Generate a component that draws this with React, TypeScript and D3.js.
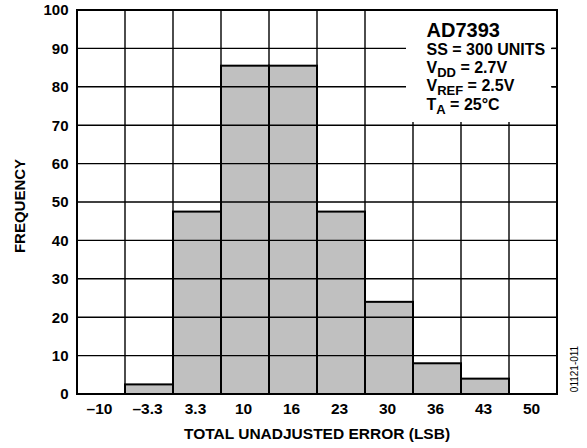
import React, { useEffect, useRef } from 'react';
import * as d3 from 'd3';

// histogram bins (LSB) and counts
const binLabels = ['–10', '–3.3', '3.3', '10', '16', '23', '30', '36', '43', '50'];
const frequency = [0, 2.5, 47.5, 85.5, 85.5, 47.5, 24, 8, 4, 0];
const yTicks = [0, 10, 20, 30, 40, 50, 60, 70, 80, 90, 100];

const W = 587;
const H = 448;

const App: React.FC = () => {
  const svgRef = useRef<SVGSVGElement>(null);

  useEffect(() => {
    if (!svgRef.current) return;
    const svg = d3.select(svgRef.current);
    svg.selectAll('*').remove();

    const margin = { top: 10, right: 30, bottom: 54, left: 77 };
    const innerWidth = W - margin.left - margin.right;
    const innerHeight = H - margin.top - margin.bottom;
    const font = 'Arial, "Liberation Sans", Helvetica, sans-serif';

    const g = svg.append('g').attr('transform', `translate(${margin.left},${margin.top})`);

    const x = d3.scaleBand().domain(binLabels).range([0, innerWidth]).padding(0);
    const y = d3.scaleLinear().domain([0, 100]).range([innerHeight, 0]);

    const bins = binLabels.map((label, i) => ({ label, value: frequency[i] }));

    // bar fills
    g.selectAll('.bar')
      .data(bins)
      .enter()
      .append('rect')
      .attr('class', 'bar')
      .attr('x', d => x(d.label) || 0)
      .attr('width', x.bandwidth())
      .attr('y', d => y(d.value))
      .attr('height', d => innerHeight - y(d.value))
      .attr('fill', '#c0c0c0');

    // grid
    const edges = binLabels.map(l => x(l) || 0);
    g.selectAll('.vgrid')
      .data(edges.slice(1))
      .enter()
      .append('line')
      .attr('x1', d => d).attr('x2', d => d)
      .attr('y1', 0).attr('y2', innerHeight)
      .attr('stroke', '#000').attr('stroke-width', 1.4);
    g.selectAll('.hgrid')
      .data(yTicks.slice(1, -1))
      .enter()
      .append('line')
      .attr('x1', 0).attr('x2', innerWidth)
      .attr('y1', d => y(d)).attr('y2', d => y(d))
      .attr('stroke', '#000').attr('stroke-width', 1.4);

    // bar outlines
    g.selectAll('.bar-outline')
      .data(bins.filter(d => d.value > 0))
      .enter()
      .append('rect')
      .attr('class', 'bar-outline')
      .attr('x', d => x(d.label) || 0)
      .attr('width', x.bandwidth())
      .attr('y', d => y(d.value))
      .attr('height', d => innerHeight - y(d.value))
      .attr('fill', 'none')
      .attr('stroke', '#000')
      .attr('stroke-width', 2);

    // info box (covers the grid behind the legend text)
    g.append('rect')
      .attr('x', 329).attr('y', 1)
      .attr('width', 146).attr('height', 111)
      .attr('fill', '#fff');

    const info = g.append('g')
      .attr('font-family', font)
      .attr('font-weight', 'bold')
      .attr('fill', '#000');
    info.append('text').attr('x', 349.5).attr('y', 26.7).attr('font-size', 20).text('AD7393');
    info.append('text').attr('x', 349.5).attr('y', 45).attr('font-size', 16).text('SS = 300 UNITS');
    const sub = (yy: number, a: string, s: string, b: string) => {
      const t = info.append('text').attr('x', 349.5).attr('y', yy).attr('font-size', 16);
      t.append('tspan').text(a);
      t.append('tspan').attr('font-size', 13).attr('dy', 4).text(s);
      t.append('tspan').attr('dy', -4).text(b);
    };
    sub(62.5, 'V', 'DD', ' = 2.7V');
    sub(81, 'V', 'REF', ' = 2.5V');
    sub(100, 'T', 'A', ' = 25°C');

    // frame
    g.append('rect')
      .attr('x', 0).attr('y', 0)
      .attr('width', innerWidth).attr('height', innerHeight)
      .attr('fill', 'none').attr('stroke', '#000').attr('stroke-width', 2);
    // right tick stubs in the box area
    g.selectAll('.stub')
      .data([90, 80])
      .enter()
      .append('line')
      .attr('x1', innerWidth - 6).attr('x2', innerWidth)
      .attr('y1', d => y(d)).attr('y2', d => y(d))
      .attr('stroke', '#000').attr('stroke-width', 1.4);

    // y tick labels
    g.selectAll('.ylab')
      .data(yTicks)
      .enter()
      .append('text')
      .attr('x', -8.5)
      .attr('y', d => y(d))
      .attr('dy', '0.36em')
      .attr('text-anchor', 'end')
      .attr('font-family', font)
      .attr('font-weight', 'bold')
      .attr('font-size', 15)
      .text(d => d);

    // x tick labels
    g.selectAll('.xlab')
      .data(binLabels)
      .enter()
      .append('text')
      .attr('x', d => (x(d) || 0) + x.bandwidth() / 2 - 1.5)
      .attr('y', innerHeight + 19.5)
      .attr('text-anchor', 'middle')
      .attr('font-family', font)
      .attr('font-weight', 'bold')
      .attr('font-size', 15.5)
      .text(d => d);

    // axis titles
    g.append('text')
      .attr('x', innerWidth / 2)
      .attr('y', innerHeight + 45.3)
      .attr('text-anchor', 'middle')
      .attr('font-family', font)
      .attr('font-weight', 'bold')
      .attr('font-size', 15.5)
      .text('TOTAL UNADJUSTED ERROR (LSB)');

    svg.append('text')
      .attr('transform', `translate(25,206) rotate(-90)`)
      .attr('text-anchor', 'middle')
      .attr('font-family', font)
      .attr('font-weight', 'bold')
      .attr('font-size', 15)
      .text('FREQUENCY');

    svg.append('text')
      .attr('transform', `translate(578,369) rotate(-90)`)
      .attr('text-anchor', 'middle')
      .attr('font-family', font)
      .attr('font-size', 10)
      .text('01121-011');
  }, []);

  return (
    <svg
      ref={svgRef}
      width={W}
      height={H}
      style={{ position: 'absolute', left: 0, top: 0, background: '#fff' }}
    />
  );
};

export default App;
